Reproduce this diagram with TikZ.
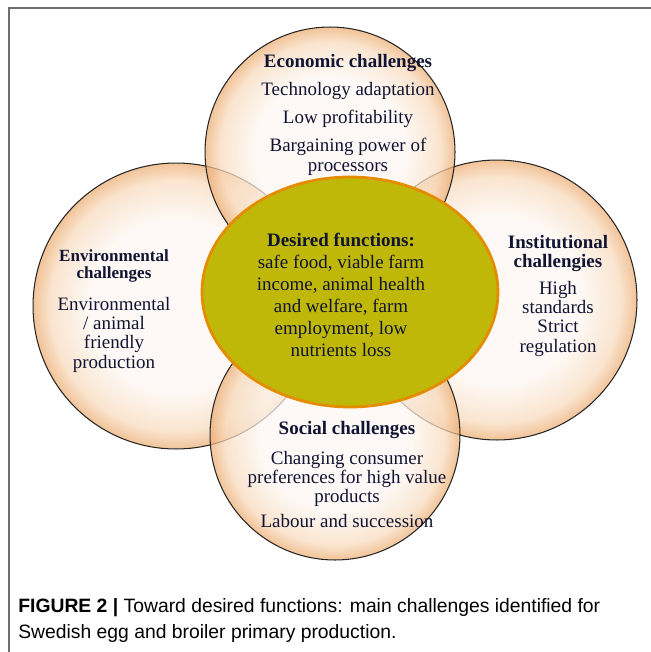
\documentclass[tikz,border=0pt]{standalone}
\usepackage{fontspec}
\setmainfont{Liberation Serif}
\newfontfamily\capfont{Liberation Sans}
\usepackage{xcolor}
\usetikzlibrary{shapes,arrows,positioning,shadows,calc}

\definecolor{bubin}{RGB}{253,247,242}
\definecolor{bubmid}{RGB}{248,218,188}
\definecolor{bubout}{RGB}{236,172,112}
\definecolor{olive}{RGB}{191,184,8}
\definecolor{rim}{RGB}{228,140,0}
\definecolor{ink}{RGB}{16,20,50}
\definecolor{framegray}{RGB}{110,110,110}
\pgfdeclareradialshading{bubble}{\pgfpoint{0bp}{0bp}}{color(0bp)=(bubin); color(15bp)=(bubin); color(22bp)=(bubmid); color(25bp)=(bubout); color(50bp)=(bubout)}

\tikzset{
  bubble/.style={circle, draw=black!85, line width=0.6pt, shading=bubble, fill opacity=0.72, inner sep=0pt},
  txt/.style={align=center, text=ink, font=\fontsize{10.8}{11}\selectfont},
}

\begin{document}
\begin{tikzpicture}[x=0.02cm, y=-0.02cm]
\useasboundingbox (0,0) rectangle (651,652);
\draw[framegray, line width=0.9pt] (9,652) -- (9,8) -- (651,8);

% four challenge circles
\node[bubble, minimum size=5.72cm] (envi) at (176,306) {};
\node[bubble, minimum size=5.6cm] (inst) at (497,300) {};
\node[bubble, minimum size=5cm] (soci) at (335,435) {};
\node[bubble, minimum size=5cm] (econ) at (330,152) {};

% centre
\node[ellipse, draw=rim, fill=olive, line width=1.6pt, minimum width=5.92cm, minimum height=4.6cm] (desi) at (350,292) {};

\node[txt, anchor=north] (econt) at (348,48) {\textbf{Economic challenges}\\[5pt]
  Technology adaptation\\[5pt] Low profitability\\[5pt] Bargaining power of\\ processors};
\node[txt, anchor=north, font=\fontsize{10.8}{12.5}\selectfont] (desit) at (341,227) {\textbf{Desired functions:}\\
  safe food, viable farm\\ income, animal health\\ and welfare, farm\\ employment, low\\ nutrients loss};
\node[txt, anchor=north, font=\fontsize{9.7}{10.2}\selectfont\bfseries] (envih) at (114,243) {Environmental\\ challenges};
\node[txt, below=1pt of envih] (envit) {Environmental\\ / animal\\ friendly\\ production};
\node[txt, anchor=north] (instt) at (558,229) {\textbf{Institutional}\\ \textbf{challengies}\\[4pt]
  High\\ standards\\ Strict\\ regulation};
\node[txt, anchor=north] (socit) at (347,415) {\textbf{Social challenges}\\[6pt]
  Changing consumer\\ preferences for high value\\ products\\[3pt] Labour and succession};

% caption
\node[anchor=north west, align=left, inner sep=0pt, font=\capfont\fontsize{11}{14.7}\selectfont] (capt) at (18,598)
  {\textbf{FIGURE 2 |} Toward desired functions: main challenges identified for\\
   Swedish egg and broiler primary production.};
\end{tikzpicture}
\end{document}
